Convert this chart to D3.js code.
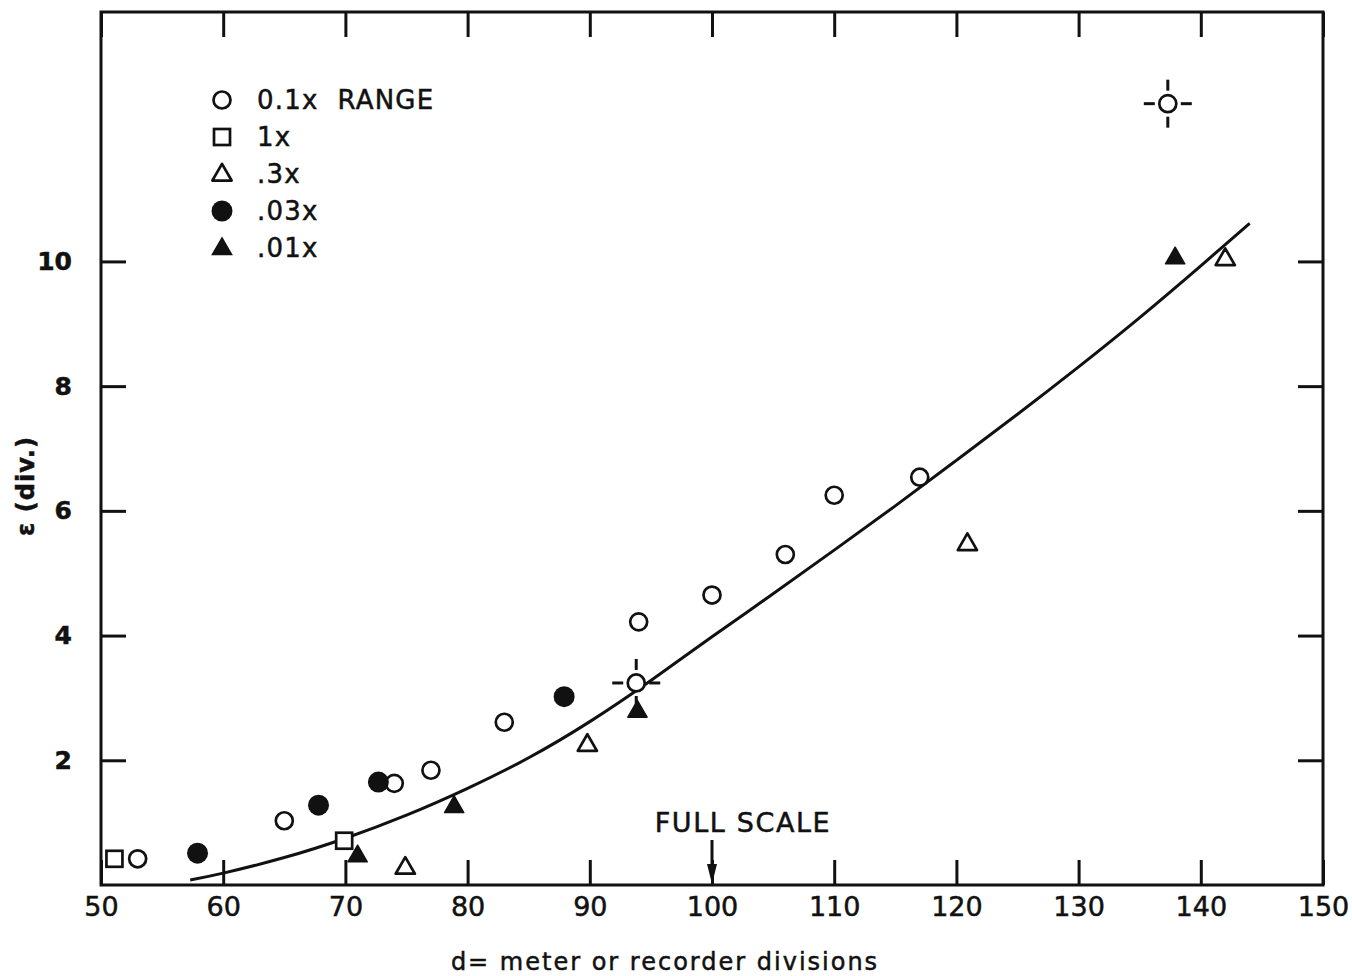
<!DOCTYPE html>
<html><head><meta charset="utf-8">
<script src="https://cdn.jsdelivr.net/npm/d3@7"></script>
<style>
html,body{margin:0;padding:0;background:#fff;}
text{font-family:"DejaVu Sans","Liberation Sans",sans-serif;fill:#111;stroke:#111;stroke-width:0.5;}
</style></head>
<body>
<svg id="chart" width="1352" height="976"></svg>
<script>
// ---- data ----
const xTicks = [50,60,70,80,90,100,110,120,130,140,150];
const yTicks = [2,4,6,8,10];
const legendLabels = ["0.1x  RANGE","1x",".3x",".03x",".01x"];

const circleX = [53, 65, 74, 77, 83, 94, 100, 106, 110, 117];
const circleY = [0.42, 1.03, 1.63, 1.84, 2.61, 4.22, 4.65, 5.30, 6.25, 6.54];
const circleErrX = [93.8, 137.3];
const circleErrY = [3.24, 12.53];
const squareX = [51.1, 69.9];
const squareY = [0.42, 0.71];
const openTriX = [74.9, 89.8, 120.9, 142];
const openTriY = [0.27, 2.24, 5.46, 10.03];
const dotX = [57.9, 67.8, 72.7, 87.9];
const dotY = [0.51, 1.28, 1.65, 3.02];
const filledTriX = [71, 78.9, 93.9, 137.9];
const filledTriY = [0.46, 1.25, 2.78, 10.05];

const curveX = [57.3, 60, 65, 70, 75, 80, 85, 90, 95, 100, 105, 110, 115, 120, 125, 130, 135, 140, 144];
const curveY = [0.08, 0.19, 0.44, 0.75, 1.12, 1.55, 2.04, 2.62, 3.28, 3.98, 4.67, 5.37, 6.08, 6.81, 7.55, 8.31, 9.10, 9.93, 10.61];

const fullScaleX = 100;

// ---- layout ----
const L = 101, R = 1323, T = 12, B = 885;
const svg = d3.select("#chart");
const x = d3.scaleLinear().domain([50,150]).range([L,R]);
const y = d3.scaleLinear().domain([0,14]).range([B,T]);

const ink = "#111";

// axes with inward ticks
const tickLen = 25;
const gB = svg.append("g").attr("transform",`translate(0,${B})`)
  .call(d3.axisBottom(x).tickValues(xTicks).tickSizeInner(-tickLen).tickSizeOuter(0).tickPadding(12).tickFormat(d3.format("d")));
const gT = svg.append("g").attr("transform",`translate(0,${T})`)
  .call(d3.axisTop(x).tickValues(xTicks).tickSizeInner(-tickLen).tickSizeOuter(0).tickFormat(""));
const gL = svg.append("g").attr("transform",`translate(${L},0)`)
  .call(d3.axisLeft(y).tickValues(yTicks).tickSizeInner(-tickLen).tickSizeOuter(0).tickPadding(29).tickFormat(d3.format("d")));
const gR = svg.append("g").attr("transform",`translate(${R},0)`)
  .call(d3.axisRight(y).tickValues(yTicks).tickSizeInner(-tickLen).tickSizeOuter(0).tickFormat(""));

[gB,gT,gL,gR].forEach(g=>{
  g.select(".domain").remove();
  g.selectAll(".tick line").attr("stroke",ink).attr("stroke-width",3);
});
gB.selectAll(".tick text").attr("font-size",27).attr("fill",ink).attr("dy","0.72em");
gL.selectAll(".tick text").attr("font-size",25).attr("font-weight","bold").attr("fill",ink);

// frame
svg.append("rect").attr("x",L).attr("y",T).attr("width",R-L).attr("height",B-T)
  .attr("fill","none").attr("stroke",ink).attr("stroke-width",3);

// curve
const pts = curveX.map((v,i)=>[v,curveY[i]]);
svg.append("path").datum(pts)
  .attr("d", d3.line().x(d=>x(d[0])).y(d=>y(d[1])).curve(d3.curveNatural))
  .attr("fill","none").attr("stroke",ink).attr("stroke-width",3);

// marker helpers
const triPath = d3.symbol(d3.symbolTriangle, 160)();
function drawCircles(g, xs, ys, filled, r){
  g.selectAll(null).data(xs.map((v,i)=>[v,ys[i]])).join("circle")
    .attr("cx",d=>x(d[0])).attr("cy",d=>y(d[1])).attr("r",r)
    .attr("fill",filled?ink:"#fff").attr("stroke",ink).attr("stroke-width",filled?0:2.7);
}
function drawSquares(g, xs, ys){
  g.selectAll(null).data(xs.map((v,i)=>[v,ys[i]])).join("rect")
    .attr("x",d=>x(d[0])-8).attr("y",d=>y(d[1])-8).attr("width",16).attr("height",16)
    .attr("fill","#fff").attr("stroke",ink).attr("stroke-width",2.7);
}
function drawTris(g, xs, ys, filled){
  g.selectAll(null).data(xs.map((v,i)=>[v,ys[i]])).join("path")
    .attr("d",triPath)
    .attr("transform",d=>`translate(${x(d[0])},${y(d[1])})`)
    .attr("fill",filled?ink:"#fff").attr("stroke",ink).attr("stroke-width",filled?1.5:2.7)
    .attr("stroke-linejoin","round");
}

const gm = svg.append("g");
drawCircles(gm, circleX, circleY, false, 8.5);
drawCircles(gm, dotX, dotY, true, 10.5);
drawSquares(gm, squareX, squareY);
drawTris(gm, openTriX, openTriY, false);
drawTris(gm, filledTriX, filledTriY, true);

// crosshair circles
const gc = svg.append("g");
circleErrX.forEach((v,i)=>{
  const cx = x(v), cy = y(circleErrY[i]);
  [[0,-1],[0,1],[-1,0],[1,0]].forEach(([dx,dy])=>{
    gc.append("line")
      .attr("x1",cx+dx*13).attr("y1",cy+dy*13)
      .attr("x2",cx+dx*24).attr("y2",cy+dy*24)
      .attr("stroke",ink).attr("stroke-width",3);
  });
});
drawCircles(gc, circleErrX, circleErrY, false, 8.5);

// legend
const legX = 222, legTextX = 257, legY0 = 100, legDY = 37;
const gLeg = svg.append("g");
legendLabels.forEach((lab,i)=>{
  const ly = legY0 + i*legDY;
  if(i===0) gLeg.append("circle").attr("cx",legX).attr("cy",ly).attr("r",8.5).attr("fill","#fff").attr("stroke",ink).attr("stroke-width",2.7);
  if(i===1) gLeg.append("rect").attr("x",legX-8).attr("y",ly-8).attr("width",16).attr("height",16).attr("fill","#fff").attr("stroke",ink).attr("stroke-width",2.7);
  if(i===2) gLeg.append("path").attr("d",triPath).attr("transform",`translate(${legX},${ly+1})`).attr("fill","#fff").attr("stroke",ink).attr("stroke-width",2.7).attr("stroke-linejoin","round");
  if(i===3) gLeg.append("circle").attr("cx",legX).attr("cy",ly).attr("r",10.5).attr("fill",ink);
  if(i===4) gLeg.append("path").attr("d",triPath).attr("transform",`translate(${legX},${ly+1})`).attr("fill",ink).attr("stroke",ink).attr("stroke-width",1.5);
  gLeg.append("text").attr("x",legTextX).attr("y",ly).attr("dy","0.36em")
    .attr("font-size",26).attr("letter-spacing",1.2).attr("xml:space","preserve").text(lab);
});

// full scale annotation
const fx = x(fullScaleX);
svg.append("text").attr("x",fx+31).attr("y",832).attr("text-anchor","middle")
  .attr("font-size",27).attr("letter-spacing",1.6).text("FULL SCALE");
svg.append("line").attr("x1",fx).attr("y1",840).attr("x2",fx).attr("y2",868)
  .attr("stroke",ink).attr("stroke-width",3);
svg.append("path").attr("d",`M${fx-5},${864}L${fx+5},${864}L${fx},${884}Z`).attr("fill",ink);

// axis titles
svg.append("text").attr("x",665).attr("y",970).attr("text-anchor","middle")
  .attr("font-size",24).attr("letter-spacing",2).text("d= meter or recorder divisions");
svg.append("text").attr("transform","translate(34,486) rotate(-90)").attr("text-anchor","middle")
  .attr("font-size",24).attr("font-weight","bold").attr("letter-spacing",1).text("ε (div.)");
</script>
</body></html>
